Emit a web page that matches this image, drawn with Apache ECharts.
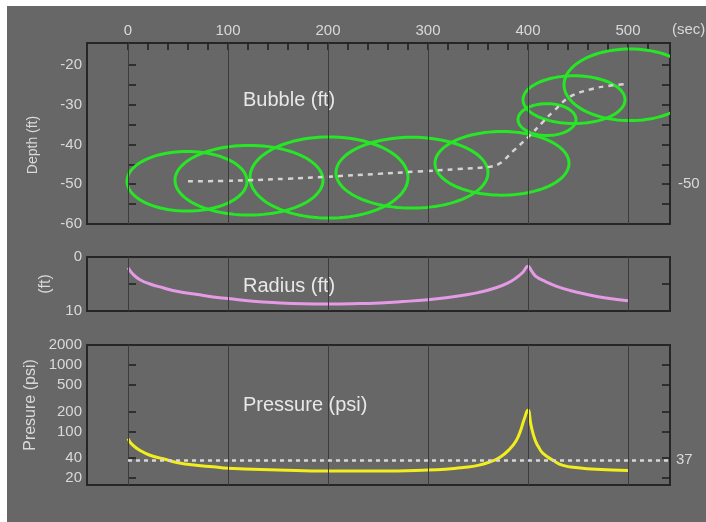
<!DOCTYPE html>
<html><head><meta charset="utf-8">
<script src="https://cdn.jsdelivr.net/npm/echarts@6/dist/echarts.min.js"></script>
<style>
html,body{margin:0;padding:0;background:#fff;width:706px;height:522px;overflow:hidden}
#bg{position:absolute;left:7px;top:6px;width:699px;height:516px;background:#676767}
#chart{position:absolute;left:0;top:0;width:706px;height:522px}
</style></head><body><div id="bg"></div><div id="chart"></div>
<script>
// ---- data ----
const timeLabels = [0, 100, 200, 300, 400, 500];
const timeTicks = [0,20,40,60,80,100,120,140,160,180,200,220,240,260,280,300,320,340,360,380,400,420,440,460,480,500,520];

// bubble snapshots (time s, depth ft, half-width in s, half-height in ft)
const ellipseTime  = [59, 121, 201, 284, 374, 419, 446, 502];
const ellipseDepth = [-49.25, -49.0, -48.3, -47.1, -44.75, -33.75, -28.75, -25.0];
const ellipseRx    = [60, 74, 79, 76, 67, 29, 51, 66];
const ellipseRy    = [7.5, 8.75, 10.2, 8.9, 8.0, 4.0, 6.0, 9.0];

// depth path
const pathTime  = [60, 90, 120, 160, 200, 250, 290, 330, 362, 372, 385, 402, 415, 425, 442, 465, 480, 500];
const pathDepth = [-49.25, -49.2, -49.0, -48.6, -48.1, -47.4, -46.8, -46.2, -45.6, -44.75, -41.7, -37.7, -34.3, -31.8, -28.0, -26.0, -25.3, -24.75];

const depthLabels = [-60, -50, -40, -30, -20];
const depthTicks = [-55, -50, -45, -40, -35, -30, -25, -20];
const depthRightLabels = [-50];

// radius
const radiusTime = [0, 5, 12, 22, 35, 50, 68, 85, 100, 125, 152, 175, 200, 225, 252, 275, 300, 320, 335, 350, 368, 380, 388, 395, 400, 404, 408, 418, 428, 442, 458, 478, 500];
const radiusFt   = [2.0, 3.2, 4.2, 5.0, 5.7, 6.4, 6.9, 7.4, 7.7, 8.2, 8.5, 8.65, 8.7, 8.65, 8.5, 8.25, 7.9, 7.5, 7.1, 6.6, 5.7, 4.8, 3.9, 2.8, 1.7, 2.7, 3.6, 4.6, 5.4, 6.2, 6.9, 7.6, 8.1];
const radiusLabels = [0, 10];
const radiusTicks = [5];

// pressure
const pressureTime = [0, 4, 12, 22, 35, 50, 68, 85, 100, 150, 200, 250, 300, 320, 335, 350, 362, 372, 382, 388, 392, 396, 400, 403, 407, 411, 415, 425, 435, 450, 468, 500];
const pressurePsi  = [78, 64, 52, 44, 39, 34, 31, 29.5, 28, 26.5, 25.5, 25.5, 26.3, 27.3, 28.8, 31, 35, 41, 55, 72, 98, 150, 210, 125, 75, 57, 47, 37, 31, 28.5, 27, 26];
const pressureLabels = [20, 40, 100, 200, 500, 1000, 2000];
const pressureTicks = [20, 40, 100, 200, 500, 1000];
const ambientPsi = 37;

// ---- chart ----
const FONT = 'Liberation Sans, Arial, Helvetica, sans-serif';
const LABEL = '#d9d9d9';
const lg = v => Math.log10(v);

const chart = echarts.init(document.getElementById('chart'), null, {renderer: 'canvas'});

const gridBase = {left: 87, right: 36, show: true, borderColor: '#262626', borderWidth: 2, backgroundColor: 'transparent', containLabel: false, outerBoundsMode: 'none'};

function xAx(gi, showTop) {
  return {
    gridIndex: gi, type: 'value', min: -41, max: 542, position: 'top',
    axisLine: {show: false}, splitLine: {show: false},
    axisTick: showTop ? {show: true, inside: true, length: 7, customValues: timeTicks, lineStyle: {color: '#1e1e1e', width: 1.5}} : {show: false},
    axisLabel: showTop ? {show: true, customValues: timeLabels, color: LABEL, fontSize: 15, margin: 5, fontFamily: FONT} : {show: false}
  };
}
function yAx(gi, pos, o) {
  return Object.assign({
    gridIndex: gi, type: 'value', position: pos,
    axisLine: {show: false}, splitLine: {show: false},
    axisTick: {show: true, inside: true, length: 8, customValues: o.ticks, lineStyle: {color: '#1e1e1e', width: 1.5}},
    axisLabel: o.labels ? {show: true, customValues: o.labels, color: LABEL, fontSize: 15, margin: pos === 'left' ? 5 : 8, fontFamily: FONT, formatter: o.fmt} : {show: false}
  }, o.extra);
}
function vLines(xi, yi) {
  return {
    type: 'line', xAxisIndex: xi, yAxisIndex: yi, data: [], silent: true, z: 1,
    markLine: {silent: true, symbol: ['none', 'none'], label: {show: false}, animation: false,
      lineStyle: {color: '#3b3b3b', width: 1, type: 'solid'},
      emphasis: {disabled: true},
      data: timeLabels.map(t => ({xAxis: t}))}
  };
}

function renderEllipse(params, api) {
  const c = api.coord([api.value(0), api.value(1)]);
  const s = api.size([api.value(2), api.value(3)]);
  const pts = [];
  for (let k = 0; k < 96; k++) {
    const a = k / 96 * Math.PI * 2;
    pts.push([c[0] + s[0] * Math.cos(a), c[1] + s[1] * Math.sin(a)]);
  }
  const cs = params.coordSys;
  return {
    type: 'group',
    clipPath: {type: 'rect', shape: {x: cs.x, y: cs.y, width: cs.width, height: cs.height}},
    children: [{type: 'polygon', shape: {points: pts}, style: {fill: 'none', stroke: '#26e626', lineWidth: 3}}]
  };
}

const pLogLabels = pressureLabels.map(lg);
const pLogTicks = pressureTicks.map(lg);

const option = {
  animation: false,
  backgroundColor: 'transparent',
  textStyle: {fontFamily: FONT},
  grid: [
    Object.assign({top: 43, height: 181}, gridBase),
    Object.assign({top: 257, height: 54}, gridBase),
    Object.assign({top: 345, height: 140}, gridBase)
  ],
  xAxis: [xAx(0, true), xAx(1, false), xAx(2, false)],
  yAxis: [
    yAx(0, 'left', {ticks: depthTicks, labels: depthLabels, extra: {min: -60, max: -14.5}}),
    yAx(0, 'right', {ticks: depthTicks, labels: depthRightLabels, extra: {min: -60, max: -14.5}}),
    yAx(1, 'left', {ticks: radiusTicks, labels: radiusLabels, extra: {min: 0, max: 10, inverse: true}}),
    yAx(1, 'right', {ticks: radiusTicks, labels: null, extra: {min: 0, max: 10, inverse: true}}),
    yAx(2, 'left', {ticks: pLogTicks, labels: pLogLabels, fmt: v => String(Math.round(Math.pow(10, v))), extra: {min: lg(15.7), max: lg(2000)}}),
    yAx(2, 'right', {ticks: pLogTicks, labels: null, extra: {min: lg(15.7), max: lg(2000)}})
  ],
  series: [
    vLines(0, 0), vLines(1, 2), vLines(2, 4),
    {
      type: 'custom', xAxisIndex: 0, yAxisIndex: 0, z: 3, silent: true,
      renderItem: renderEllipse,
      encode: {x: 0, y: 1},
      data: ellipseTime.map((t, i) => [t, ellipseDepth[i], ellipseRx[i], ellipseRy[i]])
    },
    {
      type: 'line', xAxisIndex: 0, yAxisIndex: 0, z: 4, silent: true, symbol: 'none', smooth: 0.4,
      lineStyle: {color: '#d4d4d4', width: 2.5, type: [5, 5]},
      data: pathTime.map((t, i) => [t, pathDepth[i]])
    },
    {
      type: 'line', xAxisIndex: 1, yAxisIndex: 2, z: 4, silent: true, symbol: 'none', smooth: 0.5,
      lineStyle: {color: '#e59ae6', width: 3},
      data: radiusTime.map((t, i) => [t, radiusFt[i]])
    },
    {
      type: 'line', xAxisIndex: 2, yAxisIndex: 4, z: 3, silent: true, symbol: 'none', data: [],
      markLine: {
        silent: true, symbol: ['none', 'none'], animation: false,
        lineStyle: {color: '#d8d8d8', width: 2.5, type: [4, 4]},
        label: {show: true, position: 'end', formatter: String(ambientPsi), color: LABEL, fontSize: 15, fontFamily: FONT, distance: 6},
        emphasis: {disabled: true},
        data: [[{coord: [0, lg(ambientPsi)]}, {coord: [542, lg(ambientPsi)]}]]
      }
    },
    {
      type: 'line', xAxisIndex: 2, yAxisIndex: 4, z: 4, silent: true, symbol: 'none', smooth: 0.5,
      lineStyle: {color: '#f2ee1c', width: 3},
      data: pressureTime.map((t, i) => [t, lg(pressurePsi[i])])
    }
  ],
  graphic: [
    {type: 'text', x: 243, y: 100, silent: true, style: {text: 'Bubble (ft)', fill: '#e8e8e8', font: '20px ' + FONT, verticalAlign: 'middle'}},
    {type: 'text', x: 243, y: 286, silent: true, style: {text: 'Radius (ft)', fill: '#e8e8e8', font: '20px ' + FONT, verticalAlign: 'middle'}},
    {type: 'text', x: 243, y: 405, silent: true, style: {text: 'Pressure (psi)', fill: '#e8e8e8', font: '20px ' + FONT, verticalAlign: 'middle'}},
    {type: 'text', x: 672, y: 30, silent: true, style: {text: '(sec)', fill: LABEL, font: '15px ' + FONT, verticalAlign: 'middle'}},
    {type: 'text', x: 33, y: 145, rotation: Math.PI / 2, silent: true, style: {text: 'Depth (ft)', fill: LABEL, font: '14px ' + FONT, align: 'center', verticalAlign: 'middle'}},
    {type: 'text', x: 46, y: 284, rotation: Math.PI / 2, silent: true, style: {text: '(ft)', fill: LABEL, font: '16px ' + FONT, align: 'center', verticalAlign: 'middle'}},
    {type: 'text', x: 31, y: 405, rotation: Math.PI / 2, silent: true, style: {text: 'Presure (psi)', fill: LABEL, font: '16px ' + FONT, align: 'center', verticalAlign: 'middle'}}
  ]
};
chart.setOption(option);
</script></body></html>
